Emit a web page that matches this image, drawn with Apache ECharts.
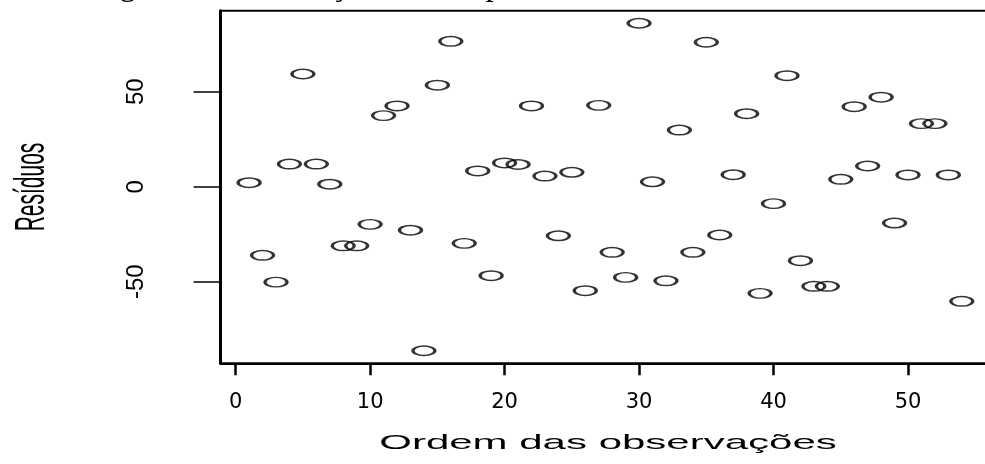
<!DOCTYPE html>
<html>
<head>
<meta charset="utf-8">
<script src="https://cdn.jsdelivr.net/npm/echarts@6/dist/echarts.min.js"></script>
<style>
  html, body { margin: 0; padding: 0; background: #fff; overflow: hidden; }
  #main { width: 1000px; height: 464px; }
</style>
</head>
<body>
<div id="main"></div>
<script>
// ordem das observacoes e residuos
var ordem = [1, 2, 3, 4, 5, 6, 7, 8, 9, 10, 11, 12, 13, 14, 15, 16, 17, 18,
  19, 20, 21, 22, 23, 24, 25, 26, 27, 28, 29, 30, 31, 32, 33, 34, 35, 36,
  37, 38, 39, 40, 41, 42, 43, 44, 45, 46, 47, 48, 49, 50, 51, 52, 53, 54];
var residuos = [2.1, -36.1, -50.2, 11.9, 59.3, 11.9, 1.3, -31.1, -31.1, -19.8,
  37.4, 42.5, -22.9, -86.3, 53.4, 76.5, -29.8, 8.3, -46.8, 12.5,
  11.7, 42.5, 5.6, -25.8, 7.6, -54.7, 42.8, -34.5, -47.7, 86.0,
  2.6, -49.5, 29.8, -34.5, 76.0, -25.4, 6.3, 38.4, -56.1, -8.9,
  58.4, -38.9, -52.4, -52.4, 3.9, 42.1, 10.9, 47.1, -19.1, 6.2,
  33.2, 33.2, 6.2, -60.3];
var xTicks = [0, 10, 20, 30, 40, 50];
var yTicks = [-50, 0, 50];

var pontos = [];
for (var i = 0; i < ordem.length; i++) {
  pontos.push([ordem[i], residuos[i]]);
}

// o quadro vai ate x=990, fora da janela de 985px (como no original)
var chart = echarts.init(document.getElementById('main'));
chart.setOption({
  animation: false,
  title: {
    text: 'Figura 5: Verificação da independência dos resíduos do modelo',
    left: 86,
    top: -36,
    textStyle: {
      fontFamily: 'Liberation Serif',
      fontWeight: 'normal',
      fontSize: 34,
      color: '#000'
    }
  },
  grid: {
    left: 220.6,
    top: 10.7,
    right: 9.7,
    bottom: 100.7,
    show: true,
    borderColor: '#000',
    borderWidth: 2,
    backgroundColor: 'transparent'
  },
  xAxis: {
    type: 'value',
    min: -1.12,
    max: 56.12,
    splitLine: { show: false },
    axisLine: { show: true, onZero: false, lineStyle: { color: '#000', width: 2 } },
    axisTick: {
      show: true,
      customValues: xTicks,
      length: 12,
      lineStyle: { color: '#000', width: 2.5 }
    },
    axisLabel: {
      customValues: xTicks,
      margin: 29,
      fontFamily: 'DejaVu Sans',
      fontSize: 21,
      color: '#000'
    }
  },
  yAxis: {
    type: 'value',
    min: -92.9,
    max: 92.6,
    splitLine: { show: false },
    axisLine: { show: true, onZero: false, lineStyle: { color: '#000', width: 3 } },
    axisTick: {
      show: true,
      customValues: yTicks,
      length: 27,
      lineStyle: { color: '#000', width: 1.5 }
    },
    axisLabel: {
      customValues: yTicks,
      rotate: 90,
      margin: 72,
      fontFamily: "'Liberation Sans Narrow', 'Liberation Sans', sans-serif",
      fontSize: 24,
      color: '#000'
    }
  },
  graphic: [
    {
      type: 'text',
      x: 608,
      y: 443,
      scaleX: 2.0,
      silent: true,
      style: {
        text: 'Ordem das observações',
        font: '21px "Liberation Sans"',
        fill: '#000',
        textAlign: 'center',
        textVerticalAlign: 'middle'
      }
    },
    {
      type: 'text',
      x: 32,
      y: 187,
      rotation: Math.PI / 2,
      scaleY: 2.0,
      silent: true,
      style: {
        text: 'Resíduos',
        font: '21px "Liberation Sans"',
        fill: '#000',
        textAlign: 'center',
        textVerticalAlign: 'middle'
      }
    }
  ],
  series: [
    {
      type: 'scatter',
      data: pontos,
      symbol: 'path://M0,5 A11,5 0 1,1 22,5 A11,5 0 1,1 0,5 Z',
      symbolSize: [22, 9.5],
      itemStyle: {
        color: 'rgba(0,0,0,0)',
        borderColor: '#000',
        borderWidth: 2.2
      },
      emphasis: { disabled: true },
      silent: true
    }
  ]
});
</script>
</body>
</html>
